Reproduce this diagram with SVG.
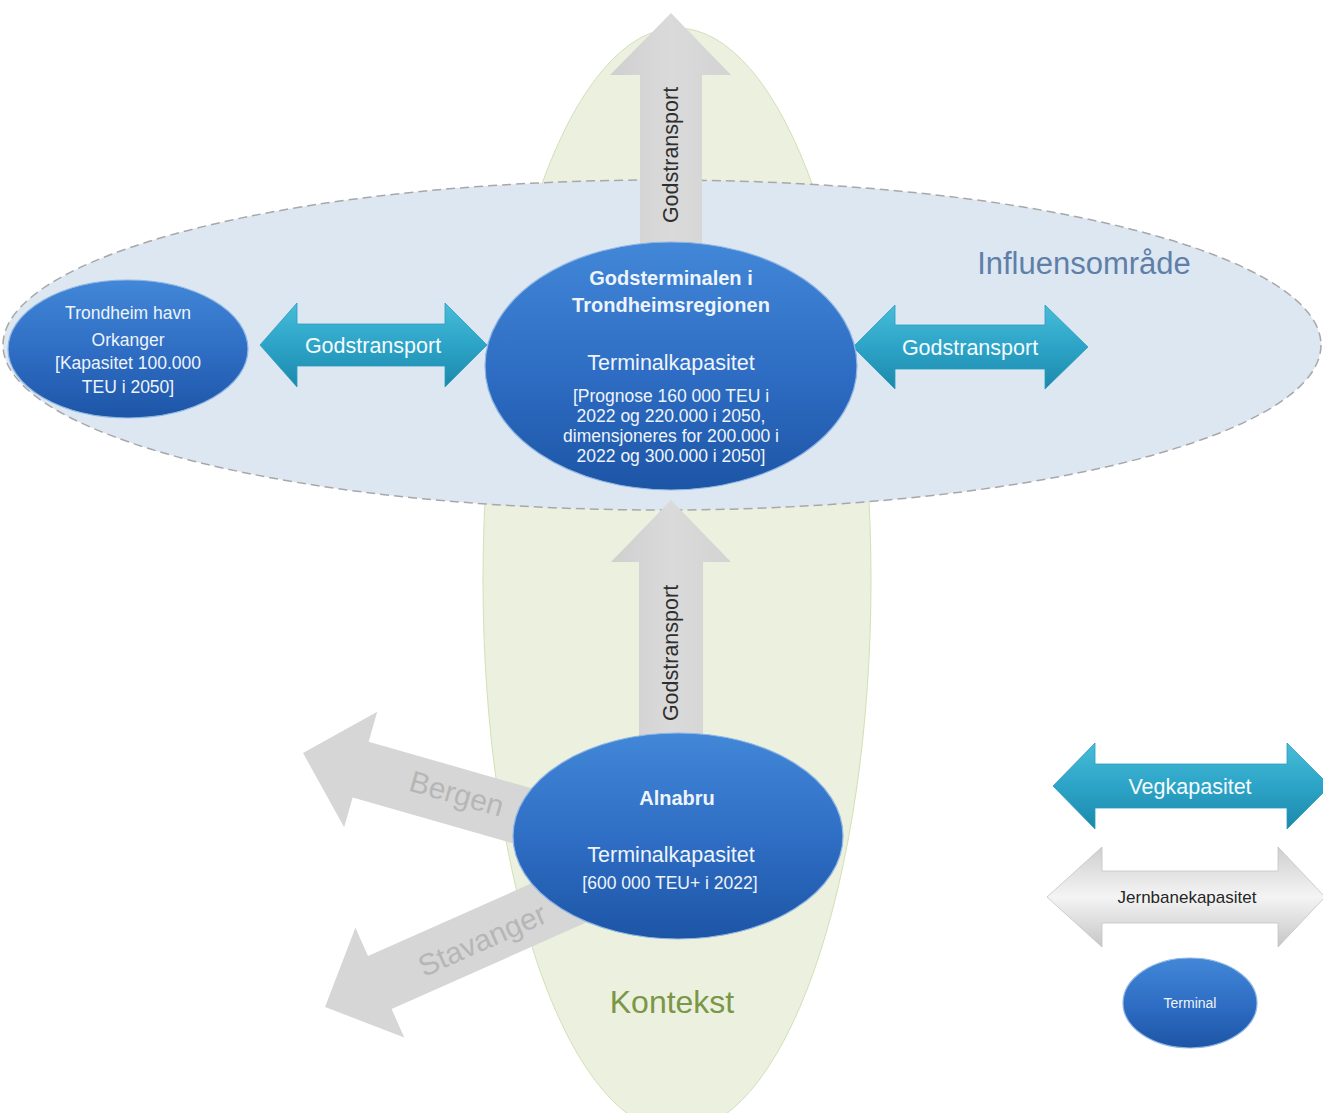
<svg xmlns="http://www.w3.org/2000/svg" width="1323" height="1113" viewBox="0 0 1323 1113">
<style>
text{font-family:"Liberation Sans",Arial,sans-serif;}
.wt{fill:#eef4fb;text-anchor:middle;}
.b{font-weight:bold;font-size:20px;}
.h{font-size:21.5px;}
.s{font-size:17.5px;}
.teal{fill:url(#gTeal);stroke:#2a9cc0;stroke-width:0.8;}
.gray{fill:url(#gGray);}
.node{fill:url(#gNode);stroke:#8fb6e4;stroke-width:1.2;}
.at{fill:#f4fafd;font-size:21.5px;text-anchor:middle;}
.vt{fill:#2e2e2e;font-size:21.5px;text-anchor:middle;}
.dir{fill:#b6b6b6;font-size:30px;text-anchor:middle;}
</style>
<defs>
<linearGradient id="gTeal" x1="0" y1="0" x2="0" y2="1">
<stop offset="0" stop-color="#48bcd9"/><stop offset="0.5" stop-color="#2ca4c7"/><stop offset="1" stop-color="#1c88ab"/>
</linearGradient>
<linearGradient id="gGray" x1="0" y1="0" x2="1" y2="0">
<stop offset="0" stop-color="#cfcfcf"/><stop offset="0.5" stop-color="#dadada"/><stop offset="1" stop-color="#d3d3d3"/>
</linearGradient>
<linearGradient id="gGrayV" x1="0" y1="0" x2="0" y2="1">
<stop offset="0" stop-color="#cfcfcf"/><stop offset="0.5" stop-color="#f4f4f4"/><stop offset="1" stop-color="#c6c6c6"/>
</linearGradient>
<linearGradient id="gNode" x1="0" y1="0" x2="0" y2="1">
<stop offset="0" stop-color="#4287d8"/><stop offset="0.55" stop-color="#2d6cc2"/><stop offset="1" stop-color="#1d55a6"/>
</linearGradient>
</defs>

<g id="kontekst">
<ellipse cx="677" cy="580" rx="194" ry="552" fill="#ebf1de" stroke="#d3dfb8" stroke-width="1"/>
<text x="672" y="1013" font-size="32" fill="#7a9646" text-anchor="middle">Kontekst</text>
</g>

<g id="influensomrade">
<ellipse cx="662" cy="345" rx="659" ry="165" fill="#dce6f2" fill-opacity="0.97" stroke="#a8a8a8" stroke-width="1.5" stroke-dasharray="9 5"/>
<text x="1084" y="274" font-size="31" fill="#5f7fa8" text-anchor="middle">Influensområde</text>
</g>

<g id="connectors">
<g id="arrow-top">
<polygon class="gray" points="671,13 731,75 702,75 702,250 640,250 640,75 610,75"/>
<text class="vt" transform="translate(678,155) rotate(-90)">Godstransport</text>
</g>
<g id="arrow-bottom">
<polygon class="gray" points="671,500 731,562 703,562 703,790 639,790 639,562 611,562"/>
<text class="vt" transform="translate(678,653) rotate(-90)">Godstransport</text>
</g>
<g id="arrow-bergen" transform="translate(303,753) rotate(16)">
<polygon fill="#d6d6d6" points="0,0 60,-60 60,-29 250,-29 250,29 60,29 60,60"/>
<text class="dir" x="159" y="7">Bergen</text>
</g>
<g id="arrow-stavanger" transform="translate(325,1007) rotate(-24)">
<polygon fill="#d6d6d6" points="0,0 60,-60 60,-29 300,-29 300,29 60,29 60,60"/>
<text class="dir" x="171" y="13">Stavanger</text>
</g>
<g id="arrow-left">
<polygon class="teal" points="260,345 297,303 297,324 445,324 445,303 487,345 445,387 445,366 297,366 297,387"/>
<text class="at" x="373" y="353">Godstransport</text>
</g>
<g id="arrow-right">
<polygon class="teal" points="853,347 895,305 895,325 1045,325 1045,305 1088,347 1045,389 1045,369 895,369 895,389"/>
<text class="at" x="970" y="355">Godstransport</text>
</g>
</g>

<g id="node-central">
<ellipse class="node" cx="671" cy="366" rx="186" ry="124"/>
<text class="wt b" x="671" y="285">Godsterminalen i</text>
<text class="wt b" x="671" y="312">Trondheimsregionen</text>
<text class="wt h" x="671" y="370">Terminalkapasitet</text>
<text class="wt s" x="671" y="402">[Prognose 160 000 TEU i</text>
<text class="wt s" x="671" y="422">2022 og 220.000 i 2050,</text>
<text class="wt s" x="671" y="442">dimensjoneres for 200.000 i</text>
<text class="wt s" x="671" y="462">2022 og 300.000 i 2050]</text>
</g>

<g id="node-trondheim">
<ellipse class="node" cx="128" cy="349" rx="120" ry="69"/>
<text class="wt s" x="128" y="319">Trondheim havn</text>
<text class="wt s" x="128" y="346">Orkanger</text>
<text class="wt s" x="128" y="369">[Kapasitet 100.000</text>
<text class="wt s" x="128" y="393">TEU i 2050]</text>
</g>

<g id="node-alnabru">
<ellipse class="node" cx="678" cy="836" rx="165" ry="103"/>
<text class="wt b" x="677" y="805">Alnabru</text>
<text class="wt h" x="671" y="862">Terminalkapasitet</text>
<text class="wt s" x="670" y="889">[600 000 TEU+ i 2022]</text>
</g>

<g id="legend">
<g id="legend-veg">
<polygon class="teal" points="1053,786 1095,743 1095,764 1287,764 1287,743 1330,786 1287,829 1287,808 1095,808 1095,829"/>
<text class="at" x="1190" y="794">Vegkapasitet</text>
</g>
<g id="legend-jernbane">
<polygon fill="url(#gGrayV)" stroke="#c4c4c4" stroke-width="0.8" points="1047,897 1102,847 1102,871 1278,871 1278,847 1325,897 1278,947 1278,923 1102,923 1102,947"/>
<text x="1187" y="903" font-size="17" fill="#262626" text-anchor="middle">Jernbanekapasitet</text>
</g>
<g id="legend-terminal">
<ellipse class="node" cx="1190" cy="1003" rx="67" ry="45"/>
<text class="wt" x="1190" y="1008" font-size="14">Terminal</text>
</g>
</g>
</svg>
